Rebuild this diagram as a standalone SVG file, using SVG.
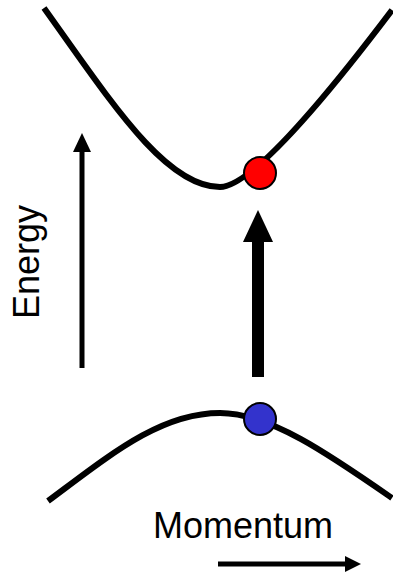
<svg xmlns="http://www.w3.org/2000/svg" width="393" height="574" viewBox="0 0 393 574">
<style>
.band{fill:none;stroke:#000;stroke-width:6}
.dot{stroke:#000;stroke-width:2}
.lbl{font-family:"Liberation Sans",Arial,sans-serif;font-size:36px;fill:#000}
.shaft{stroke:#000;stroke-width:5;fill:none}
.head{fill:#000}
</style>
<rect width="393" height="574" fill="#fff"/>
<g id="conduction-band">
<path class="band" d="M44,8 C110,100 165,187 220,187 C252,187 330,92 392,10"/>
</g>
<g id="valence-band">
<path class="band" d="M48,501 C110,455 160,413 220,413 C270,413 330,455 392,498"/>
</g>
<g id="connectors">
<line class="shaft" x1="82" y1="368" x2="82" y2="148"/>
<polygon class="head" points="82,133 73,152 91,152"/>
<rect x="252" y="238" width="12" height="139" fill="#000"/>
<polygon class="head" points="258,210 243,242 273,242"/>
<line class="shaft" x1="218" y1="564" x2="347" y2="564"/>
<polygon class="head" points="361,564 345,556 345,572"/>
</g>
<g id="electron">
<circle class="dot" cx="260" cy="173" r="16" fill="#FF0000"/>
</g>
<g id="hole">
<circle class="dot" cx="260" cy="419" r="16" fill="#3333CC"/>
</g>
<g id="energy-label">
<text class="lbl" transform="translate(39,319) rotate(-90)">Energy</text>
</g>
<g id="momentum-label">
<text class="lbl" x="153" y="538">Momentum</text>
</g>
</svg>
